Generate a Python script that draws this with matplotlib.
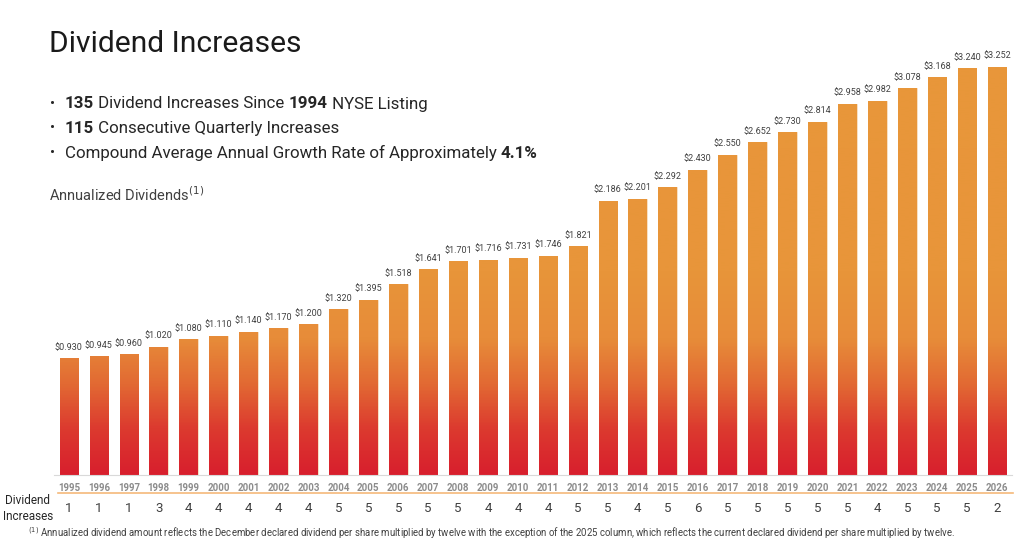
import numpy as np
import matplotlib
matplotlib.use('Agg')
import matplotlib.pyplot as plt
from matplotlib.colors import LinearSegmentedColormap
from matplotlib.lines import Line2D

# Data
years = [str(y) for y in range(1995, 2027)]
dividends = [0.930, 0.945, 0.960, 1.020, 1.080, 1.110, 1.140, 1.170, 1.200, 1.320,
             1.395, 1.518, 1.641, 1.701, 1.716, 1.731, 1.746, 1.821, 2.186, 2.201,
             2.292, 2.430, 2.550, 2.652, 2.730, 2.814, 2.958, 2.982, 3.078, 3.168,
             3.240, 3.252]
increases = [1, 1, 1, 3, 4, 4, 4, 4, 4, 5, 5, 5, 5, 5, 4, 4, 4, 5, 5, 4, 5, 6,
             5, 5, 5, 5, 5, 4, 5, 5, 5, 2]

plt.rcParams['font.family'] = ['Roboto', 'DejaVu Sans']

fig = plt.figure(figsize=(10.24, 5.46), dpi=100)
ax = fig.add_axes([0.0527, 0.130, 0.9356, 0.828])

x = np.arange(len(years))
ymax = 3.6
bars = ax.bar(x, dividends, width=0.62, color='none', edgecolor='#f6d9b8', linewidth=0.6)

# vertical gradient: red at the base, orange higher up
cmap = LinearSegmentedColormap.from_list(
    'divgrad', [(0.0, '#d81f2d'), (0.10, '#dc3a2f'), (0.20, '#e26a33'),
                (0.30, '#e78c39'), (0.45, '#e8953a'), (1.0, '#e8973a')])
grad = np.linspace(1, 0, 400).reshape(-1, 1)
for b in bars:
    im = ax.imshow(grad, cmap=cmap, aspect='auto', extent=[-0.5, 31.5, 0, ymax],
                   vmin=0, vmax=1, zorder=2)
    im.set_clip_path(b)

ax.set_xlim(-0.5, 31.5)
ax.set_ylim(0, ymax)
ax.set_yticks([])
for s in ['top', 'right', 'left']:
    ax.spines[s].set_visible(False)
ax.spines['bottom'].set_color('#d9d9d9')
ax.spines['bottom'].set_linewidth(0.8)
ax.set_xticks(x)
ax.set_xticklabels(years, fontsize=7, color='#8c8c8c', fontweight='bold')
ax.tick_params(axis='x', length=0, pad=6)

for xi, v in zip(x, dividends):
    ax.text(xi, v + 0.05, f'${v:.3f}', ha='center', va='bottom', fontsize=6.5,
            color='#404040')

# dividend increases row
for xi, n in zip(x, increases):
    ax.text(xi, -0.265, str(n), ha='center', va='center', fontsize=9.5,
            color='#404040', clip_on=False)

fig.add_artist(Line2D([58 / 1024, 1013 / 1024], [1 - 493 / 546, 1 - 493 / 546],
                      color='#f5b97a', linewidth=1.2))
fig.text(28 / 1024, 1 - 508 / 546, 'Dividend\nIncreases', ha='center', va='center',
         fontsize=8.5, color='#262626', linespacing=1.3)

# title and bullets
fig.text(49 / 1024, 1 - 44 / 546, 'Dividend Increases', ha='left', va='center',
         fontsize=21.6, color='#1a1a1a')
bullets = [
    [('135', 'bold'), (' Dividend Increases Since ', 'normal'), ('1994', 'bold'),
     (' NYSE Listing', 'normal')],
    [('115', 'bold'), (' Consecutive Quarterly Increases', 'normal')],
    [('Compound Average Annual Growth Rate of Approximately ', 'normal'), ('4.1%', 'bold')],
]
fig.canvas.draw()
renderer = fig.canvas.get_renderer()
for i, parts in enumerate(bullets):
    yy = 1 - (104 + 24.5 * i) / 546
    fig.text(50 / 1024, yy, '\u2022', ha='left', va='center', fontsize=11, color='#262626')
    xx = 65 / 1024
    for txt, wt in parts:
        t = fig.text(xx, yy, txt, ha='left', va='center', fontsize=12.2,
                     color='#262626', fontweight=wt)
        bb = t.get_window_extent(renderer=renderer)
        xx += bb.width / fig.bbox.width

fig.text(49 / 1024, 1 - 195 / 546, 'Annualized Dividends$^{(1)}$', ha='left', va='center',
         fontsize=10.5, color='#404040')

fig.text(28 / 1024, 1 - 533 / 546,
         '$^{(1)}$ Annualized dividend amount reflects the December declared dividend per share '
         'multiplied by twelve with the exception of the 2025 column, which reflects the current '
         'declared dividend per share multiplied by twelve.',
         ha='left', va='center', fontsize=6.9, color='#404040')

fig.savefig('out.png', dpi=100)
